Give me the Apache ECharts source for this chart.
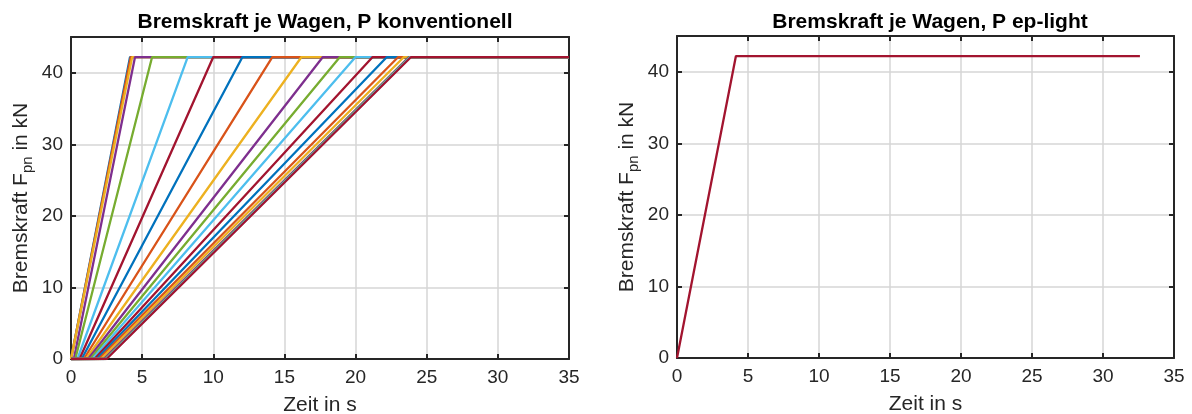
<!DOCTYPE html>
<html>
<head>
<meta charset="utf-8">
<script src="https://cdn.jsdelivr.net/npm/echarts@6/dist/echarts.min.js"></script>
<style>
  html, body { margin: 0; padding: 0; background: #fff; }
  #chart { width: 1192px; height: 414px; }
</style>
</head>
<body>
<div id="chart"></div>
<script>
// Bremskraft je Wagen: Beginn und Ende des Bremskraftaufbaus (s)
var maxForce = 42.2
var convStart = [0, 0.05, 0.12, 0.2, 0.3, 0.45, 0.6, 0.75, 0.9, 1.05, 1.2, 1.35, 1.5, 1.65, 1.8, 1.95, 2.1, 2.3, 2.4, 2.45, 2.5]
var convEnd = [4.15, 4.2, 4.3, 4.5, 5.7, 8.2, 10.0, 12.05, 14.15, 16.2, 17.7, 18.9, 20.0, 21.2, 22.2, 23.0, 23.4, 23.75, 23.8, 23.85, 23.9]
var convEndTime = 35
var epTime = [0, 4.15, 32.6]
var epForce = [0, maxForce, maxForce]

var axisColor = '#262626'
var font = 'Liberation Sans, Arial, sans-serif'

function mainX(gridIndex) {
  return {
    type: 'value', gridIndex: gridIndex, min: 0, max: 35, interval: 5,
    name: 'Zeit in s', nameLocation: 'middle', nameGap: 36,
    nameTextStyle: { color: axisColor, fontSize: 21, fontFamily: font },
    axisLine: { onZero: false, lineStyle: { color: axisColor, width: 2 } },
    axisTick: { inside: true, length: 5, lineStyle: { color: axisColor, width: 2 } },
    axisLabel: { color: axisColor, fontSize: 19, fontFamily: font, margin: 9 },
    splitLine: { show: true, lineStyle: { color: '#d6d6d6', width: 1.5 } }
  }
}
function sideX(gridIndex) {
  return {
    type: 'value', gridIndex: gridIndex, position: 'top', min: 0, max: 35, interval: 5,
    axisLine: { onZero: false, lineStyle: { color: axisColor, width: 2 } },
    axisTick: { inside: true, length: 5, lineStyle: { color: axisColor, width: 2 } },
    axisLabel: { show: false }, splitLine: { show: false }
  }
}
function mainY(gridIndex) {
  return {
    type: 'value', gridIndex: gridIndex, min: 0, max: 45, interval: 10,
    name: '{a|Bremskraft F}{sub|pn}{a| in kN}', nameLocation: 'middle', nameGap: 36,
    nameTextStyle: {
      color: axisColor, fontFamily: font,
      rich: {
        a: { fontSize: 21, color: axisColor, fontFamily: font, lineHeight: 28 },
        sub: { fontSize: 15, color: axisColor, fontFamily: font, lineHeight: 28, padding: [14, 0, 0, 0] }
      }
    },
    axisLine: { onZero: false, lineStyle: { color: axisColor, width: 2 } },
    axisTick: { inside: true, length: 5, lineStyle: { color: axisColor, width: 2 } },
    axisLabel: { color: axisColor, fontSize: 19, fontFamily: font, margin: 8, showMaxLabel: false },
    splitLine: { show: true, lineStyle: { color: '#d6d6d6', width: 1.5 } }
  }
}
function sideY(gridIndex) {
  return {
    type: 'value', gridIndex: gridIndex, position: 'right', min: 0, max: 45, interval: 10,
    axisLine: { onZero: false, lineStyle: { color: axisColor, width: 2 } },
    axisTick: { inside: true, length: 5, lineStyle: { color: axisColor, width: 2 } },
    axisLabel: { show: false }, splitLine: { show: false }
  }
}

var series = []
for (var i = 0; i < convStart.length; i++) {
  series.push({
    type: 'line', xAxisIndex: 0, yAxisIndex: 0, showSymbol: false,
    lineStyle: { width: 2.3 },
    data: [[0, 0], [convStart[i], 0], [convEnd[i], maxForce], [convEndTime, maxForce]]
  })
}
series.push({
  type: 'line', xAxisIndex: 2, yAxisIndex: 2, showSymbol: false,
  lineStyle: { width: 2.3, color: '#A2142F' },
  data: epTime.map(function (t, k) { return [t, epForce[k]] })
})

var myChart = echarts.init(document.getElementById('chart'))
var option = {
  animation: false,
  backgroundColor: '#fff',
  color: ['#0072BD', '#D95319', '#EDB120', '#7E2F8E', '#77AC30', '#4DBEEE', '#A2142F'],
  title: [
    { text: 'Bremskraft je Wagen, P konventionell', left: 320, top: 7, textAlign: 'center',
      textStyle: { fontSize: 21, fontWeight: 'bold', color: '#000', fontFamily: font } },
    { text: 'Bremskraft je Wagen, P ep-light', left: 925, top: 7, textAlign: 'center',
      textStyle: { fontSize: 21, fontWeight: 'bold', color: '#000', fontFamily: font } }
  ],
  grid: [
    { left: 71, top: 37, width: 498, height: 322, outerBoundsMode: 'none' },
    { left: 677, top: 36, width: 497, height: 322, outerBoundsMode: 'none' }
  ],
  xAxis: [mainX(0), sideX(0), mainX(1), sideX(1)],
  yAxis: [mainY(0), sideY(0), mainY(1), sideY(1)],
  series: series
}
myChart.setOption(option)
</script>
</body>
</html>
